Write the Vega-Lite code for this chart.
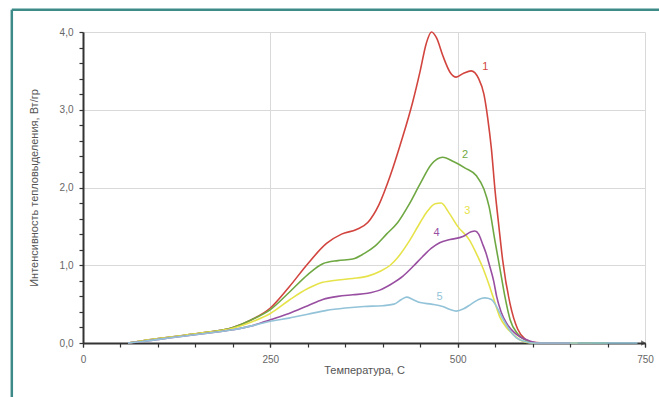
{
  "$schema": "https://vega.github.io/schema/vega-lite/v6.json",
  "width": 562,
  "height": 311,
  "autosize": {"type": "none"},
  "padding": {"left": 83, "top": 32, "right": 14, "bottom": 54},
  "background": "white",
  "config": {
    "view": {"stroke": null},
    "font": "Liberation Sans",
    "axis": {"labelFont": "Liberation Sans", "titleFont": "Liberation Sans", "labelOverlap": false, "labelFlush": false}
  },
  "resolve": {"axis": {"x": "independent", "y": "independent"}},
  "datasets": {
    "curves": [
      {"t": 60, "v": 0, "s": "1"}, {"t": 80, "v": 0.03, "s": "1"}, {"t": 120, "v": 0.08, "s": "1"}, {"t": 160, "v": 0.13, "s": "1"}, {"t": 200, "v": 0.2, "s": "1"}, {"t": 225, "v": 0.3, "s": "1"}, {"t": 250, "v": 0.45, "s": "1"}, {"t": 275, "v": 0.72, "s": "1"}, {"t": 300, "v": 1.02, "s": "1"}, {"t": 325, "v": 1.28, "s": "1"}, {"t": 345, "v": 1.4, "s": "1"}, {"t": 365, "v": 1.46, "s": "1"}, {"t": 380, "v": 1.55, "s": "1"}, {"t": 395, "v": 1.78, "s": "1"}, {"t": 410, "v": 2.15, "s": "1"}, {"t": 425, "v": 2.6, "s": "1"}, {"t": 440, "v": 3.1, "s": "1"}, {"t": 450, "v": 3.5, "s": "1"}, {"t": 458, "v": 3.85, "s": "1"}, {"t": 465, "v": 4.0, "s": "1"}, {"t": 472, "v": 3.92, "s": "1"}, {"t": 480, "v": 3.7, "s": "1"}, {"t": 490, "v": 3.48, "s": "1"}, {"t": 498, "v": 3.42, "s": "1"}, {"t": 508, "v": 3.47, "s": "1"}, {"t": 518, "v": 3.5, "s": "1"}, {"t": 528, "v": 3.4, "s": "1"}, {"t": 535, "v": 3.2, "s": "1"}, {"t": 540, "v": 2.9, "s": "1"}, {"t": 545, "v": 2.5, "s": "1"}, {"t": 550, "v": 1.95, "s": "1"}, {"t": 555, "v": 1.5, "s": "1"}, {"t": 560, "v": 1.07, "s": "1"}, {"t": 570, "v": 0.5, "s": "1"}, {"t": 580, "v": 0.18, "s": "1"}, {"t": 590, "v": 0.05, "s": "1"}, {"t": 600, "v": 0.01, "s": "1"}, {"t": 620, "v": 0, "s": "1"}, {"t": 680, "v": 0, "s": "1"},
      {"t": 60, "v": 0, "s": "2"}, {"t": 80, "v": 0.03, "s": "2"}, {"t": 120, "v": 0.08, "s": "2"}, {"t": 160, "v": 0.13, "s": "2"}, {"t": 200, "v": 0.2, "s": "2"}, {"t": 225, "v": 0.3, "s": "2"}, {"t": 250, "v": 0.43, "s": "2"}, {"t": 275, "v": 0.65, "s": "2"}, {"t": 300, "v": 0.88, "s": "2"}, {"t": 320, "v": 1.02, "s": "2"}, {"t": 340, "v": 1.06, "s": "2"}, {"t": 360, "v": 1.08, "s": "2"}, {"t": 375, "v": 1.15, "s": "2"}, {"t": 390, "v": 1.25, "s": "2"}, {"t": 405, "v": 1.4, "s": "2"}, {"t": 420, "v": 1.55, "s": "2"}, {"t": 435, "v": 1.78, "s": "2"}, {"t": 450, "v": 2.05, "s": "2"}, {"t": 465, "v": 2.3, "s": "2"}, {"t": 480, "v": 2.39, "s": "2"}, {"t": 495, "v": 2.33, "s": "2"}, {"t": 510, "v": 2.25, "s": "2"}, {"t": 525, "v": 2.15, "s": "2"}, {"t": 535, "v": 1.98, "s": "2"}, {"t": 542, "v": 1.75, "s": "2"}, {"t": 550, "v": 1.3, "s": "2"}, {"t": 556, "v": 0.98, "s": "2"}, {"t": 563, "v": 0.6, "s": "2"}, {"t": 570, "v": 0.3, "s": "2"}, {"t": 580, "v": 0.12, "s": "2"}, {"t": 592, "v": 0.03, "s": "2"}, {"t": 605, "v": 0, "s": "2"}, {"t": 700, "v": 0, "s": "2"},
      {"t": 60, "v": 0, "s": "3"}, {"t": 80, "v": 0.03, "s": "3"}, {"t": 120, "v": 0.08, "s": "3"}, {"t": 160, "v": 0.13, "s": "3"}, {"t": 200, "v": 0.19, "s": "3"}, {"t": 225, "v": 0.27, "s": "3"}, {"t": 250, "v": 0.38, "s": "3"}, {"t": 275, "v": 0.55, "s": "3"}, {"t": 300, "v": 0.7, "s": "3"}, {"t": 320, "v": 0.78, "s": "3"}, {"t": 340, "v": 0.81, "s": "3"}, {"t": 360, "v": 0.83, "s": "3"}, {"t": 380, "v": 0.86, "s": "3"}, {"t": 396, "v": 0.92, "s": "3"}, {"t": 410, "v": 1.0, "s": "3"}, {"t": 420, "v": 1.1, "s": "3"}, {"t": 436, "v": 1.32, "s": "3"}, {"t": 450, "v": 1.55, "s": "3"}, {"t": 460, "v": 1.7, "s": "3"}, {"t": 470, "v": 1.79, "s": "3"}, {"t": 478, "v": 1.8, "s": "3"}, {"t": 488, "v": 1.68, "s": "3"}, {"t": 500, "v": 1.5, "s": "3"}, {"t": 516, "v": 1.32, "s": "3"}, {"t": 525, "v": 1.15, "s": "3"}, {"t": 533, "v": 0.98, "s": "3"}, {"t": 540, "v": 0.8, "s": "3"}, {"t": 547, "v": 0.6, "s": "3"}, {"t": 556, "v": 0.34, "s": "3"}, {"t": 565, "v": 0.2, "s": "3"}, {"t": 573, "v": 0.12, "s": "3"}, {"t": 585, "v": 0.03, "s": "3"}, {"t": 600, "v": 0, "s": "3"}, {"t": 660, "v": 0, "s": "3"},
      {"t": 60, "v": 0, "s": "4"}, {"t": 80, "v": 0.02, "s": "4"}, {"t": 120, "v": 0.07, "s": "4"}, {"t": 160, "v": 0.12, "s": "4"}, {"t": 200, "v": 0.17, "s": "4"}, {"t": 225, "v": 0.22, "s": "4"}, {"t": 250, "v": 0.3, "s": "4"}, {"t": 275, "v": 0.38, "s": "4"}, {"t": 300, "v": 0.48, "s": "4"}, {"t": 320, "v": 0.56, "s": "4"}, {"t": 340, "v": 0.6, "s": "4"}, {"t": 360, "v": 0.62, "s": "4"}, {"t": 380, "v": 0.64, "s": "4"}, {"t": 396, "v": 0.68, "s": "4"}, {"t": 410, "v": 0.75, "s": "4"}, {"t": 427, "v": 0.86, "s": "4"}, {"t": 440, "v": 0.98, "s": "4"}, {"t": 453, "v": 1.11, "s": "4"}, {"t": 465, "v": 1.22, "s": "4"}, {"t": 476, "v": 1.29, "s": "4"}, {"t": 490, "v": 1.33, "s": "4"}, {"t": 507, "v": 1.37, "s": "4"}, {"t": 518, "v": 1.43, "s": "4"}, {"t": 523, "v": 1.44, "s": "4"}, {"t": 528, "v": 1.4, "s": "4"}, {"t": 533, "v": 1.28, "s": "4"}, {"t": 538, "v": 1.15, "s": "4"}, {"t": 543, "v": 0.98, "s": "4"}, {"t": 548, "v": 0.8, "s": "4"}, {"t": 552, "v": 0.6, "s": "4"}, {"t": 558, "v": 0.4, "s": "4"}, {"t": 565, "v": 0.26, "s": "4"}, {"t": 575, "v": 0.14, "s": "4"}, {"t": 583, "v": 0.08, "s": "4"}, {"t": 595, "v": 0.03, "s": "4"}, {"t": 610, "v": 0, "s": "4"}, {"t": 650, "v": 0, "s": "4"},
      {"t": 60, "v": 0, "s": "5"}, {"t": 80, "v": 0.02, "s": "5"}, {"t": 120, "v": 0.07, "s": "5"}, {"t": 160, "v": 0.12, "s": "5"}, {"t": 200, "v": 0.17, "s": "5"}, {"t": 225, "v": 0.22, "s": "5"}, {"t": 250, "v": 0.28, "s": "5"}, {"t": 275, "v": 0.32, "s": "5"}, {"t": 300, "v": 0.37, "s": "5"}, {"t": 325, "v": 0.42, "s": "5"}, {"t": 350, "v": 0.45, "s": "5"}, {"t": 375, "v": 0.47, "s": "5"}, {"t": 400, "v": 0.48, "s": "5"}, {"t": 415, "v": 0.5, "s": "5"}, {"t": 425, "v": 0.56, "s": "5"}, {"t": 432, "v": 0.59, "s": "5"}, {"t": 440, "v": 0.56, "s": "5"}, {"t": 450, "v": 0.52, "s": "5"}, {"t": 465, "v": 0.5, "s": "5"}, {"t": 480, "v": 0.47, "s": "5"}, {"t": 490, "v": 0.43, "s": "5"}, {"t": 498, "v": 0.41, "s": "5"}, {"t": 508, "v": 0.44, "s": "5"}, {"t": 518, "v": 0.5, "s": "5"}, {"t": 528, "v": 0.56, "s": "5"}, {"t": 536, "v": 0.58, "s": "5"}, {"t": 545, "v": 0.56, "s": "5"}, {"t": 550, "v": 0.5, "s": "5"}, {"t": 556, "v": 0.39, "s": "5"}, {"t": 562, "v": 0.28, "s": "5"}, {"t": 569, "v": 0.17, "s": "5"}, {"t": 578, "v": 0.07, "s": "5"}, {"t": 590, "v": 0.02, "s": "5"}, {"t": 600, "v": 0, "s": "5"}, {"t": 740, "v": 0, "s": "5"}
    ],
    "labels": [
      {"t": 537, "v": 3.55, "s": "1", "label": "1"},
      {"t": 510, "v": 2.42, "s": "2", "label": "2"},
      {"t": 513, "v": 1.7, "s": "3", "label": "3"},
      {"t": 472, "v": 1.42, "s": "4", "label": "4"},
      {"t": 476, "v": 0.59, "s": "5", "label": "5"}
    ]
  },
  "layer": [
    {
      "data": {"values": [{}]},
      "mark": {"type": "rule", "color": "#3d8b89", "strokeWidth": 2.5, "clip": false},
      "encoding": {
        "x": {"datum": -95, "type": "quantitative", "scale": {"domain": [0, 750], "nice": false, "zero": false}, "axis": null},
        "x2": {"datum": 775},
        "y": {"datum": 4.285, "type": "quantitative", "scale": {"domain": [0, 4], "nice": false}, "axis": null}
      }
    },
    {
      "data": {"values": [{}]},
      "mark": {"type": "rule", "color": "#3d8b89", "strokeWidth": 2.5, "clip": false},
      "encoding": {
        "x": {"datum": -95, "type": "quantitative", "axis": null},
        "y": {"datum": 4.285, "type": "quantitative", "axis": null},
        "y2": {"datum": -0.8}
      }
    },
    {
      "data": {"values": [{}]},
      "mark": {"type": "point", "shape": "triangle-right", "filled": true, "color": "#333333", "size": 30, "clip": false},
      "encoding": {
        "x": {
          "datum": 748, "type": "quantitative",
          "axis": {
            "orient": "bottom",
            "values": [0, 50, 100, 150, 200, 250, 300, 350, 400, 450, 500, 550, 600, 650, 700, 750],
            "grid": false, "labels": false, "domain": false, "title": null,
            "tickColor": "#333333", "tickSize": 4, "tickWidth": 1.2
          }
        },
        "y": {
          "datum": 0, "type": "quantitative",
          "axis": {
            "orient": "left",
            "values": [0.2, 0.4, 0.6, 0.8, 1.2, 1.4, 1.6, 1.8, 2.2, 2.4, 2.6, 2.8, 3.2, 3.4, 3.6, 3.8],
            "grid": false, "labels": false, "domain": false, "title": null,
            "tickColor": "#333333", "tickSize": 4, "tickWidth": 1.2
          }
        }
      }
    },
    {
      "data": {"name": "curves"},
      "mark": {"type": "line", "interpolate": "monotone", "strokeWidth": 1.6},
      "encoding": {
        "x": {
          "field": "t", "type": "quantitative",
          "axis": {
            "orient": "bottom",
            "values": [0, 250, 500, 750],
            "format": "d",
            "grid": true,
            "gridColor": "#d9d9d9",
            "gridWidth": 1,
            "domainColor": "#333333",
            "domainWidth": 2,
            "tickColor": "#333333",
            "tickSize": 4,
            "tickWidth": 1.2,
            "labelFontSize": 10,
            "labelColor": "#666666",
            "labelPadding": 7,
            "title": "Температура, С",
            "titleFontSize": 11,
            "titleFontWeight": "normal",
            "titleColor": "#555555",
            "titleY": 21,
            "titleBaseline": "top"
          }
        },
        "y": {
          "field": "v", "type": "quantitative",
          "axis": {
            "orient": "left",
            "values": [0, 1, 2, 3, 4],
            "labelExpr": "replace(format(datum.value, '.1f'), '.', ',')",
            "grid": true,
            "gridColor": "#d9d9d9",
            "gridWidth": 1,
            "domainColor": "#333333",
            "domainWidth": 2,
            "tickColor": "#333333",
            "tickSize": 4,
            "tickWidth": 1.2,
            "labelFontSize": 10,
            "labelColor": "#666666",
            "labelPadding": 6,
            "title": "Интенсивность тепловыделения, Вт/гр",
            "titleFontSize": 11,
            "titleFontWeight": "normal",
            "titleColor": "#555555",
            "titlePadding": 20
          }
        },
        "color": {
          "field": "s", "type": "nominal",
          "scale": {"domain": ["1", "2", "3", "4", "5"], "range": ["#d2453f", "#6fa843", "#e6e34a", "#994fa1", "#93c3d8"]},
          "legend": null
        }
      }
    },
    {
      "data": {"name": "labels"},
      "mark": {"type": "text", "fontSize": 11, "align": "center", "baseline": "middle"},
      "encoding": {
        "x": {"field": "t", "type": "quantitative", "axis": null},
        "y": {"field": "v", "type": "quantitative", "axis": null},
        "text": {"field": "label"},
        "color": {"field": "s", "type": "nominal", "legend": null}
      }
    }
  ]
}
